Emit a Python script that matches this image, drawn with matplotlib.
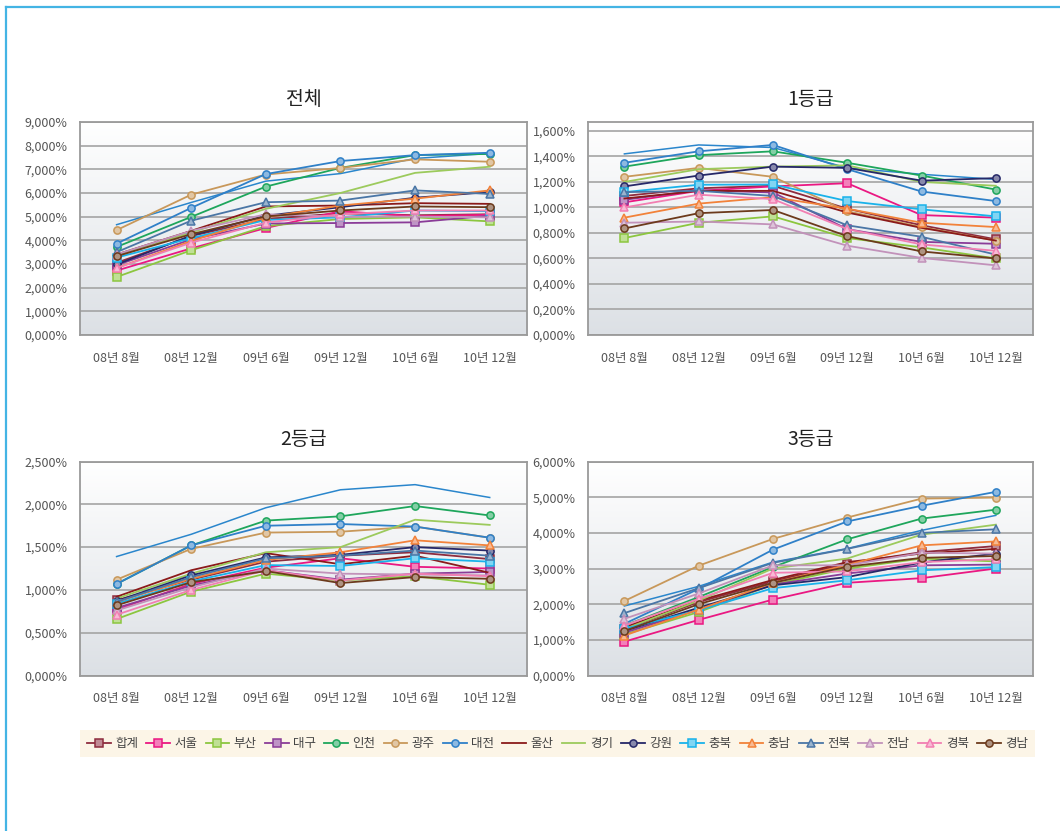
import numpy as np
import matplotlib
matplotlib.use("Agg")
import matplotlib.pyplot as plt
from matplotlib.lines import Line2D
from matplotlib.ticker import FuncFormatter
from matplotlib.colors import to_rgb

plt.rcParams['font.family'] = ['Noto Sans CJK KR', 'DejaVu Sans']

periods = ['08년 8월', '08년 12월', '09년 6월', '09년 12월', '10년 6월', '10년 12월']

regions = ['합계', '서울', '부산', '대구', '인천', '광주', '대전', '울산',
           '경기', '강원', '충북', '충남', '전북', '전남', '경북', '경남']

# rates in %, one row per region (same order as `regions`)
total_vals = [
    [3.05, 4.18, 4.90, 5.14, 5.06, 5.10],
    [2.72, 3.66, 4.52, 5.23, 5.02, 5.08],
    [2.45, 3.58, 4.60, 4.90, 4.97, 4.80],
    [2.95, 4.04, 4.71, 4.73, 4.76, 5.04],
    [3.72, 4.99, 6.27, 7.06, 7.60, 7.65],
    [4.43, 5.93, 6.78, 7.06, 7.42, 7.32],
    [3.86, 5.37, 6.80, 7.35, 7.60, 7.70],
    [3.40, 4.40, 5.43, 5.47, 5.57, 5.54],
    [3.33, 4.33, 5.33, 6.00, 6.85, 7.11],
    [2.98, 4.20, 5.04, 5.40, 5.80, 6.04],
    [3.27, 4.09, 4.86, 4.97, 5.26, 5.23],
    [2.83, 3.97, 4.97, 5.47, 5.76, 6.11],
    [3.50, 4.83, 5.61, 5.68, 6.11, 5.96],
    [3.40, 4.40, 5.10, 5.00, 5.00, 4.97],
    [2.83, 3.90, 4.75, 5.10, 5.26, 5.26],
    [3.33, 4.26, 5.01, 5.26, 5.43, 5.40],
]
total_extra = [4.66, 5.60, 6.50, 6.82, 7.46, 7.67]

grade1_vals = [
    [1.09, 1.15, 1.17, 0.99, 0.86, 0.75],
    [1.04, 1.13, 1.165, 1.19, 0.94, 0.92],
    [0.76, 0.88, 0.93, 0.76, 0.687, 0.60],
    [1.06, 1.135, 1.117, 0.83, 0.73, 0.715],
    [1.32, 1.41, 1.44, 1.35, 1.25, 1.14],
    [1.24, 1.31, 1.24, 0.97, 0.846, 0.74],
    [1.35, 1.44, 1.49, 1.30, 1.125, 1.05],
    [1.07, 1.13, 1.13, 0.96, 0.84, 0.74],
    [1.20, 1.30, 1.32, 1.33, 1.20, 1.17],
    [1.165, 1.25, 1.32, 1.31, 1.21, 1.23],
    [1.12, 1.178, 1.18, 1.05, 0.985, 0.93],
    [0.92, 1.03, 1.08, 0.99, 0.88, 0.846],
    [1.12, 1.13, 1.09, 0.86, 0.77, 0.63],
    [0.88, 0.89, 0.867, 0.70, 0.604, 0.546],
    [1.00, 1.10, 1.065, 0.83, 0.71, 0.66],
    [0.835, 0.955, 0.98, 0.775, 0.655, 0.60],
]
grade1_extra = [1.42, 1.49, 1.47, 1.31, 1.26, 1.22]

grade2_vals = [
    [0.88, 1.12, 1.33, 1.40, 1.44, 1.36],
    [0.77, 1.07, 1.26, 1.37, 1.27, 1.25],
    [0.66, 0.98, 1.19, 1.11, 1.16, 1.06],
    [0.79, 1.05, 1.23, 1.12, 1.19, 1.21],
    [1.07, 1.52, 1.81, 1.86, 1.98, 1.87],
    [1.12, 1.48, 1.67, 1.68, 1.74, 1.61],
    [1.07, 1.52, 1.75, 1.77, 1.74, 1.61],
    [0.92, 1.23, 1.43, 1.30, 1.40, 1.20],
    [0.90, 1.19, 1.44, 1.50, 1.82, 1.76],
    [0.87, 1.17, 1.38, 1.41, 1.50, 1.46],
    [0.84, 1.10, 1.29, 1.28, 1.37, 1.33],
    [0.86, 1.13, 1.35, 1.44, 1.58, 1.52],
    [0.86, 1.15, 1.37, 1.40, 1.46, 1.40],
    [0.76, 1.03, 1.25, 1.19, 1.18, 1.17],
    [0.71, 1.00, 1.23, 1.11, 1.19, 1.16],
    [0.82, 1.09, 1.22, 1.08, 1.15, 1.13],
]
grade2_extra = [1.39, 1.65, 1.96, 2.17, 2.23, 2.08]

grade3_vals = [
    [1.30, 2.06, 2.64, 3.14, 3.46, 3.63],
    [0.95, 1.56, 2.13, 2.60, 2.73, 3.00],
    [1.15, 1.78, 2.55, 3.00, 3.28, 3.20],
    [1.20, 1.85, 2.55, 2.86, 3.09, 3.11],
    [1.40, 2.20, 3.04, 3.82, 4.40, 4.65],
    [2.09, 3.08, 3.83, 4.43, 4.96, 4.99],
    [1.45, 2.43, 3.53, 4.32, 4.76, 5.15],
    [1.35, 2.10, 2.68, 3.18, 3.42, 3.55],
    [1.30, 2.10, 3.00, 3.28, 3.95, 4.23],
    [1.25, 1.90, 2.53, 2.76, 3.17, 3.42],
    [1.31, 1.83, 2.45, 2.67, 2.95, 3.04],
    [1.12, 1.85, 2.60, 3.10, 3.65, 3.76],
    [1.75, 2.45, 3.16, 3.55, 4.00, 4.10],
    [1.59, 2.30, 3.09, 3.09, 3.44, 3.42],
    [1.40, 2.15, 2.88, 2.92, 3.18, 3.26],
    [1.25, 2.00, 2.60, 3.05, 3.30, 3.35],
]
grade3_extra = [1.95, 2.50, 3.18, 3.56, 4.07, 4.49]

colors = ['#8e2c3e', '#ea1882', '#8cc63f', '#8a3c98', '#1ea65c', '#c8985a',
          '#2f80c8', '#8b1a1a', '#9cca5c', '#262868', '#19b2ea', '#f2823a',
          '#4a76a6', '#c292ba', '#f27fb2', '#6c3a1c']
markers = ['s', 's', 's', 's', 'o', 'o', 'o', None, None, 'o', 's', '^',
           '^', '^', '^', 'o']
extra_color = '#2a86cc'


def lighten(c, amt=0.45):
    r, g, b = to_rgb(c)
    return (r + (1 - r) * amt, g + (1 - g) * amt, b + (1 - b) * amt)


def marker_kw(i):
    m = markers[i]
    if m is None:
        return {}
    return dict(marker=m, markersize=5.5 if m == 's' else 5.2,
                markerfacecolor=lighten(colors[i]), markeredgecolor=colors[i],
                markeredgewidth=1.1)


fig = plt.figure(figsize=(10.6, 8.31), dpi=100)

panels = [
    ('전체', total_vals, total_extra, 9.0, 9.0, 1.0, [0.0755, 0.5969, 0.4217, 0.2563]),
    ('1등급', grade1_vals, grade1_extra, 1.67, 1.6, 0.2, [0.5547, 0.5969, 0.4198, 0.2563]),
    ('2등급', grade2_vals, grade2_extra, 2.5, 2.5, 0.5, [0.0755, 0.1871, 0.4217, 0.2575]),
    ('3등급', grade3_vals, grade3_extra, 6.0, 6.0, 1.0, [0.5547, 0.1871, 0.4198, 0.2575]),
]

grad = np.linspace(1, 0, 256).reshape(-1, 1)
top_rgb = np.array([1.0, 1.0, 1.0])
bot_rgb = np.array(to_rgb('#dce0e5'))

x = np.arange(len(periods))
for title, vals, extra, ymax, ytop, step, rect in panels:
    ax = fig.add_axes(rect)
    img = bot_rgb + (top_rgb - bot_rgb) * grad[..., None]
    ax.imshow(img.reshape(256, 1, 3), extent=[0, 1, 0, 1], transform=ax.transAxes,
              aspect='auto', zorder=0)
    ax.set_xlim(-0.49, 5.5)
    ax.set_ylim(0, ymax)
    ticks = np.arange(0, ytop + step / 2, step)
    ax.set_yticks(ticks)
    ax.yaxis.set_major_formatter(FuncFormatter(lambda v, p: f'{v:.3f}%'.replace('.', ',')))
    ax.set_xticks(x)
    ax.set_xticklabels(periods)
    ax.grid(axis='y', color='#a4a4a4', linewidth=1.2, zorder=1)
    ax.set_axisbelow(True)
    ax.tick_params(axis='both', length=0, labelsize=9, colors='#555555')
    ax.tick_params(axis='y', pad=9)
    ax.tick_params(axis='x', pad=12)
    for s in ax.spines.values():
        s.set_color('#9a9a9a')
        s.set_linewidth(1.3)
    ax.set_title(title, fontsize=14, color='#222222', pad=12)

    ax.plot(x, extra, color=extra_color, linewidth=1.1, zorder=3)
    for i, name in enumerate(regions):
        ax.plot(x, vals[i], color=colors[i], linewidth=1.3, zorder=3 + i * 0.01,
                **marker_kw(i))

# legend strip
handles = [Line2D([], [], color=colors[i], linewidth=1.3, label=name, **marker_kw(i))
           for i, name in enumerate(regions)]
leg = fig.legend(handles=handles, ncol=16, mode='expand', loc='lower left',
                 bbox_to_anchor=(80 / 1060, 1 - 757 / 831, 955 / 1060, 26 / 831),
                 frameon=True, fancybox=False, fontsize=9, handlelength=1.9,
                 handletextpad=0.35, columnspacing=0.6, borderpad=0.55,
                 borderaxespad=0)
leg.get_frame().set_facecolor('#fcf3e2')
leg.get_frame().set_edgecolor('none')
for t in leg.get_texts():
    t.set_color('#444444')

# outer frame (top and left)
fig.add_artist(Line2D([5.5 / 1060, 1], [1 - 6.5 / 831, 1 - 6.5 / 831],
                      color='#44b4e4', linewidth=1.6))
fig.add_artist(Line2D([5.5 / 1060, 5.5 / 1060], [0, 1 - 6.5 / 831],
                      color='#44b4e4', linewidth=1.6))

fig.savefig('out.png', dpi=100, facecolor='white')
